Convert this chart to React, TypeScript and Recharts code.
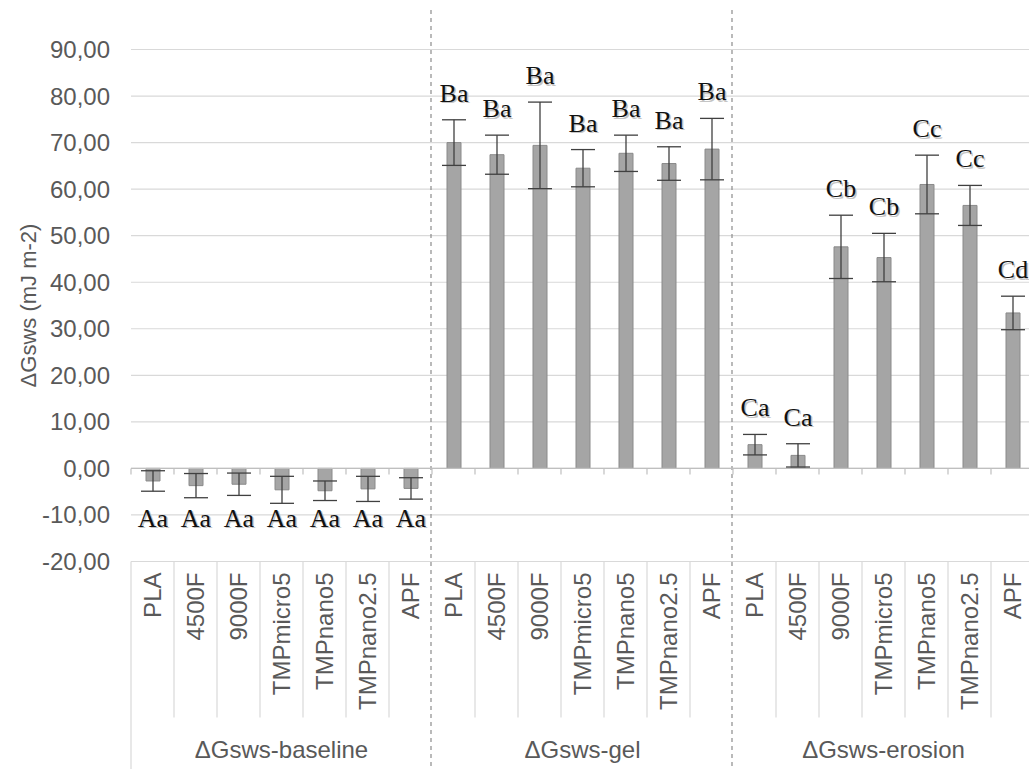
import React from 'react';
import {
  ComposedChart,
  Bar,
  XAxis,
  YAxis,
  CartesianGrid,
  ErrorBar,
  LabelList,
  ReferenceLine,
} from 'recharts';

// ---------- data ----------
const samples = ['PLA', '4500F', '9000F', 'TMPmicro5', 'TMPnano5', 'TMPnano2.5', 'APF'];
const groupLabels = ['ΔGsws-baseline', 'ΔGsws-gel', 'ΔGsws-erosion'];
const groupKeys = ['baseline', 'gel', 'erosion'];

const baselineValues = [-2.7, -3.7, -3.4, -4.6, -4.8, -4.4, -4.3];
const baselineErr = [2.2, 2.6, 2.4, 2.9, 2.1, 2.7, 2.3];
const baselineLetters = ['Aa', 'Aa', 'Aa', 'Aa', 'Aa', 'Aa', 'Aa'];

const gelValues = [70.0, 67.4, 69.4, 64.5, 67.7, 65.5, 68.6];
const gelErr = [4.9, 4.2, 9.3, 4.0, 3.9, 3.6, 6.6];
const gelLetters = ['Ba', 'Ba', 'Ba', 'Ba', 'Ba', 'Ba', 'Ba'];

const erosionValues = [5.1, 2.8, 47.6, 45.3, 61.0, 56.5, 33.4];
const erosionErr = [2.2, 2.5, 6.8, 5.2, 6.3, 4.3, 3.6];
const erosionLetters = ['Ca', 'Ca', 'Cb', 'Cb', 'Cc', 'Cc', 'Cd'];

const yTicks = [-20, -10, 0, 10, 20, 30, 40, 50, 60, 70, 80, 90];
const yTitle = 'ΔGsws (mJ m-2)';

const groupValues = [baselineValues, gelValues, erosionValues];
const groupErrs = [baselineErr, gelErr, erosionErr];
const groupLetters = [baselineLetters, gelLetters, erosionLetters];

const data = groupKeys.flatMap((g, gi) =>
  samples.map((s, si) => ({
    key: `${g}-${s}`,
    sample: s,
    group: groupLabels[gi],
    value: groupValues[gi][si],
    err: groupErrs[gi][si],
    letter: groupLetters[gi][si],
  }))
);

// ---------- styles ----------
const W = 1040;
const H = 769;
const SANS = "'Liberation Sans', Arial, sans-serif";
const SERIF = "'Liberation Serif', 'Times New Roman', serif";
const TEXT_GREY = '#595959';
const GRID = '#d9d9d9';
const PER_GROUP = samples.length;

const CategoryTick = (props: any) => {
  const { x, y, payload, index } = props;
  const i = payload && typeof payload.index === 'number' ? payload.index : index;
  const d = data.find((e) => e.key === payload?.value) ?? data[i];
  if (!d) return null;
  const idx = data.indexOf(d);
  const ty = y + 11;
  return (
    <g>
      <text
        x={x}
        y={ty}
        transform={`rotate(-90 ${x} ${ty})`}
        textAnchor="end"
        dy="0.36em"
        fontFamily={SANS}
        fontSize={24}
        fill={TEXT_GREY}
      >
        {d.sample}
      </text>
      {idx % PER_GROUP === 3 && (
        <text
          x={x}
          y={y + 196}
          textAnchor="middle"
          fontFamily={SANS}
          fontSize={24}
          fill={TEXT_GREY}
        >
          {d.group}
        </text>
      )}
    </g>
  );
};

const ZeroAxis = (p: any) => {
  const { x1, x2, y1 } = p;
  const band = (x2 - x1) / data.length;
  return (
    <g>
      <line x1={x1} x2={x2} y1={y1} y2={y1} stroke="#bfbfbf" strokeWidth={1.3} />
      {data.map((_, i) => (
        <line
          key={i}
          x1={x1 + i * band}
          x2={x1 + i * band}
          y1={y1}
          y2={y1 + 6}
          stroke="#bfbfbf"
          strokeWidth={1.2}
        />
      ))}
    </g>
  );
};

const TableLines = (p: any) => {
  const { x1, x2, y1 } = p;
  const band = (x2 - x1) / data.length;
  return (
    <g>
      {data.map((_, i) => {
        const lx = x1 + i * band;
        if (i === 0)
          return <line key={i} x1={lx} x2={lx} y1={y1} y2={H} stroke={GRID} strokeWidth={1.2} />;
        if (i % PER_GROUP === 0)
          return (
            <line
              key={i}
              x1={lx - 1}
              x2={lx - 1}
              y1={10}
              y2={H}
              stroke="#8c8c8c"
              strokeWidth={1.2}
              strokeDasharray="4 4"
            />
          );
        return <line key={i} x1={lx} x2={lx} y1={y1} y2={y1 + 156} stroke={GRID} strokeWidth={1.2} />;
      })}
    </g>
  );
};

const LetterLabel = (p: any) => {
  const vb = p.viewBox ?? {};
  const x = vb.x ?? p.x;
  const y = vb.y ?? p.y;
  const width = vb.width ?? p.width;
  const height = vb.height ?? p.height;
  const d = data.find((e) => e.key === p.value);
  if (!d || x == null) return null;
  const cx = x + width / 2;
  const top = Math.min(y, y + height);
  const bottom = Math.max(y, y + height);
  const ppu = Math.abs(height) / Math.abs(d.value);
  let ty: number;
  if (d.value >= 0) ty = top - d.err * ppu - 18;
  else ty = top + 58.5;
  return (
    <g>
      <text x={cx + 1.5} y={ty + 1.5} textAnchor="middle" fontFamily={SERIF} fontSize={26} fill="#c4c4c4">
        {d.letter}
      </text>
      <text x={cx} y={ty} textAnchor="middle" fontFamily={SERIF} fontSize={26} fill="#111">
        {d.letter}
      </text>
    </g>
  );
};

const YTitle = (p: any) => {
  const vb = p.viewBox ?? { x: 0, y: 49.5, width: 131, height: 512 };
  const cx = vb.x + 28;
  const cy = vb.y + vb.height / 2;
  return (
    <text
      x={cx}
      y={cy}
      transform={`rotate(-90 ${cx} ${cy})`}
      textAnchor="middle"
      dy="0.36em"
      fontFamily={SANS}
      fontSize={22}
      fill={TEXT_GREY}
    >
      {yTitle}
    </text>
  );
};

const fmt = (v: number) => v.toFixed(2).replace('.', ',');

export default function App() {
  return (
    <div
      style={{
        position: 'fixed',
        left: 0,
        top: 0,
        width: 1029,
        height: 769,
        overflow: 'hidden',
        background: '#fff',
      }}
    >
      <ComposedChart
        width={W}
        height={H}
        data={data}
        margin={{ top: 49.5, right: 6, left: 0, bottom: 0 }}
      >
        <CartesianGrid horizontal vertical={false} stroke={GRID} strokeWidth={1.2} />
        <XAxis
          dataKey="key"
          interval={0}
          height={207.5}
          axisLine={false}
          tickLine={false}
          tickSize={0}
          tickMargin={0}
          tick={<CategoryTick />}
        />
        <YAxis
          type="number"
          domain={[-20, 90]}
          ticks={yTicks}
          width={131}
          axisLine={false}
          tickLine={false}
          tickSize={0}
          tickMargin={21}
          tickFormatter={fmt}
          tick={{ fontFamily: SANS, fontSize: 24, fill: TEXT_GREY }}
          label={{ content: YTitle } as any}
        />
        <ReferenceLine y={-20} shape={TableLines} ifOverflow="visible" />
        <ReferenceLine y={0} shape={ZeroAxis} ifOverflow="visible" />
        <Bar
          dataKey="value"
          barSize={14}
          fill="#a5a5a5"
          stroke="#8a8a8a"
          strokeWidth={1}
          isAnimationActive={false}
        >
          <ErrorBar dataKey="err" width={12} stroke="#404040" strokeWidth={1.3} direction="y" />
          <LabelList dataKey="key" content={LetterLabel} />
        </Bar>
      </ComposedChart>
    </div>
  );
}
